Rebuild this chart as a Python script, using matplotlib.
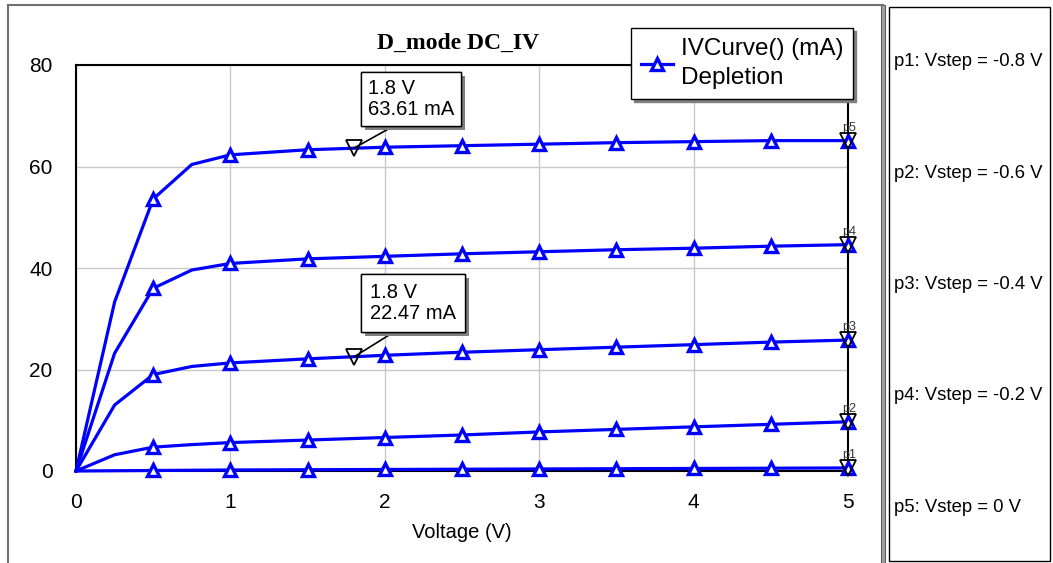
import matplotlib
matplotlib.use("Agg")
import matplotlib.pyplot as plt
from matplotlib.lines import Line2D
from matplotlib.patches import Rectangle
from matplotlib import patheffects

# -----------------------------
# data
# -----------------------------
volts = [0, 0.25, 0.5, 0.75, 1.0, 1.5, 2.0, 2.5, 3.0, 3.5, 4.0, 4.5, 5.0]
curve_p1 = [0, 0.05, 0.1, 0.15, 0.2, 0.25, 0.3, 0.35, 0.4, 0.45, 0.5, 0.55, 0.6]
curve_p2 = [0, 3.2, 4.7, 5.2, 5.6, 6.1, 6.6, 7.1, 7.7, 8.2, 8.7, 9.2, 9.7]
curve_p3 = [0, 13.0, 19.0, 20.6, 21.3, 22.1, 22.8, 23.4, 23.9, 24.4, 24.9, 25.4, 25.8]
curve_p4 = [0, 23.2, 36.0, 39.6, 40.9, 41.8, 42.3, 42.8, 43.2, 43.6, 43.9, 44.3, 44.6]
curve_p5 = [0, 33.3, 53.6, 60.4, 62.3, 63.3, 63.8, 64.1, 64.4, 64.7, 64.9, 65.1, 65.1]
curves = [curve_p1, curve_p2, curve_p3, curve_p4, curve_p5]
curve_names = ["p1", "p2", "p3", "p4", "p5"]
vstep = ["-0.8", "-0.6", "-0.4", "-0.2", "0"]

marker_idx = [2, 4, 5, 6, 7, 8, 9, 10, 11, 12]  # triangles every 0.5 V

markers_v = [1.8, 1.8]
markers_i = [63.61, 22.47]

xticks = [0, 1, 2, 3, 4, 5]
yticks = [0, 20, 40, 60, 80]

W, H = 1053, 563


def fx(x):
    return x / W


def fy(y):
    return 1 - y / H


fig = plt.figure(figsize=(W / 100, H / 100), dpi=100)
plt.rcParams['font.family'] = ['Liberation Sans', 'DejaVu Sans']

ax = fig.add_axes([fx(76), fy(471), fx(848) - fx(76), fy(65) - fy(471)])

for vals in curves:
    ax.plot(volts, vals, color='blue', lw=2.3, marker='^', markevery=marker_idx,
            ms=9, mfc='white', mec='blue', mew=2.4, clip_on=False, zorder=3)

# end-point markers with names
for vals, name in zip(curves, curve_names):
    ax.plot([volts[-1]], [vals[-1]], marker='v', ms=11, mfc='none', mec='black',
            mew=1.3, clip_on=False, zorder=5)
    ax.annotate(name, (volts[-1], vals[-1]), xytext=(-4, 5), textcoords='offset points',
                fontsize=9, ha='left', va='bottom', color='#333333')

# marker readouts
for v, i in zip(markers_v, markers_i):
    ax.plot([v], [i], marker='v', ms=11, mfc='none', mec='black', mew=1.3, zorder=5)

box_centers = [(411, 99), (413, 303)]
box_pads = [0.35, 0.45]
for (v, i), (cx, cy), bp in zip(zip(markers_v, markers_i), box_centers, box_pads):
    ann = ax.annotate(f"{v} V\n{i:.2f} mA", xy=(v, i), xytext=(cx, H - cy),
                      textcoords='figure pixels', ha='center', va='center',
                      fontsize=14.5, linespacing=1.1, multialignment='left',
                      bbox=dict(boxstyle=f'square,pad={bp}', fc='white', ec='black', lw=1),
                      arrowprops=dict(arrowstyle='-', color='black', lw=1.2,
                                      relpos=(0.45, 0), shrinkA=0, shrinkB=0),
                      zorder=6)
    ann.get_bbox_patch().set_path_effects([
        patheffects.withSimplePatchShadow(offset=(3, -3), shadow_rgbFace='#808080', alpha=1),
        patheffects.Normal()])

ax.set_xlim(0, 5)
ax.set_ylim(0, 80)
ax.set_xticks(xticks)
ax.set_yticks(yticks)
ax.tick_params(length=0, labelsize=15)
ax.tick_params(axis='x', pad=16)
ax.tick_params(axis='y', pad=17)
ax.grid(True, color='#c8c8c8', lw=1)
ax.set_axisbelow(True)
for s in ax.spines.values():
    s.set_color('black')
    s.set_linewidth(1.5)
ax.set_xlabel("Voltage (V)", fontsize=14.5, labelpad=8)

fig.text(fx(458), fy(43), "D_mode DC_IV", fontsize=17, fontweight='bold',
         family='Liberation Serif', ha='center', va='center')

# legend
handle = Line2D([], [], color='blue', lw=2.3, marker='^', ms=9, mfc='white', mec='blue', mew=2.4)
leg = ax.legend([handle], ["IVCurve() (mA)\nDepletion"], loc='upper right',
                bbox_to_anchor=(fx(853), fy(28)), bbox_transform=fig.transFigure,
                borderaxespad=0, fontsize=17.5, fancybox=False, edgecolor='black',
                framealpha=1, handlelength=1.35, handletextpad=0.3, borderpad=0.4,
                shadow={'color': '#808080', 'alpha': 1})
leg.get_frame().set_linewidth(1)
for t in leg.get_texts():
    t.set_linespacing(1.45)
leg.set_zorder(10)

# outer frames
fig.add_artist(Line2D([fx(8), fx(8)], [fy(5), fy(563)], color='#707070', lw=1.5))
fig.add_artist(Line2D([fx(8), fx(883)], [fy(5), fy(5)], color='#707070', lw=1.5))
fig.add_artist(Rectangle((fx(881), fy(563)), fx(4), fy(5) - fy(563), fc='#a0a0a0',
                         ec='#606060', lw=0.8))
fig.add_artist(Rectangle((fx(889), fy(561)), fx(1050) - fx(889), fy(7) - fy(561),
                         fc='white', ec='black', lw=1))

for k, (name, vs) in enumerate(zip(curve_names, vstep)):
    fig.text(fx(894), fy(62 + k * 111.3), f"{name}: Vstep = {vs} V", fontsize=13.3,
             ha='left', va='center')

fig.savefig("out.png", dpi=100)
